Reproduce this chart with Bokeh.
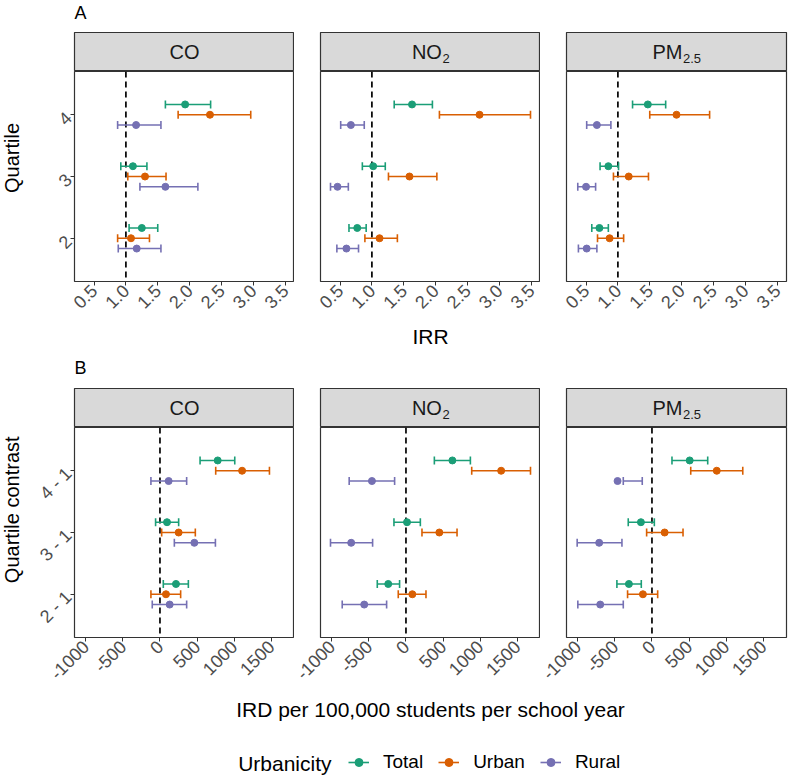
import math
from bokeh.plotting import figure
from bokeh.models import (ColumnDataSource, FactorRange, Range1d, FixedTicker, Span,
                          Legend, LegendItem)
from bokeh.transform import dodge
from bokeh.layouts import column, row
from bokeh.core.properties import value
from bokeh.embed import file_html
from bokeh.resources import INLINE

FONT = "Liberation Sans"

groups = ["Total", "Urban", "Rural"]
group_colors = ["#1B9E77", "#D95F02", "#7570B3"]
pollutants = ["CO", "NO2", "PM2.5"]
strip_main = ["CO", "NO", "PM"]
strip_sub = ["", "2", "2.5"]

quartiles = ["2", "3", "4"]
contrasts = ["2 - 1", "3 - 1", "4 - 1"]

irr_ticks = [0.5, 1.0, 1.5, 2.0, 2.5, 3.0, 3.5]
irr_tick_labels = ["0.5", "1.0", "1.5", "2.0", "2.5", "3.0", "3.5"]
ird_ticks = [-1000, -500, 0, 500, 1000, 1500]
ird_tick_labels = ["-1000", "-500", "0", "500", "1000", "1500"]

# ---- Panel A: IRR by quartile (order Q2, Q3, Q4) ----
irr_co_total = [1.25, 1.11, 1.93]
irr_co_total_lo = [1.05, 0.92, 1.62]
irr_co_total_hi = [1.50, 1.33, 2.33]
irr_co_urban = [1.08, 1.30, 2.32]
irr_co_urban_lo = [0.87, 1.03, 1.82]
irr_co_urban_hi = [1.37, 1.63, 2.96]
irr_co_rural = [1.17, 1.62, 1.16]
irr_co_rural_lo = [0.88, 1.22, 0.87]
irr_co_rural_hi = [1.55, 2.13, 1.55]

irr_no2_total = [0.77, 1.02, 1.63]
irr_no2_total_lo = [0.64, 0.85, 1.35]
irr_no2_total_hi = [0.91, 1.21, 1.95]
irr_no2_urban = [1.12, 1.59, 2.69]
irr_no2_urban_lo = [0.89, 1.26, 2.06]
irr_no2_urban_hi = [1.40, 2.02, 3.49]
irr_no2_rural = [0.60, 0.46, 0.67]
irr_no2_rural_lo = [0.45, 0.35, 0.51]
irr_no2_rural_hi = [0.79, 0.63, 0.88]

irr_pm_total = [0.71, 0.85, 1.47]
irr_pm_total_lo = [0.59, 0.72, 1.23]
irr_pm_total_hi = [0.85, 1.01, 1.75]
irr_pm_urban = [0.87, 1.17, 1.92]
irr_pm_urban_lo = [0.68, 0.93, 1.50]
irr_pm_urban_hi = [1.09, 1.48, 2.44]
irr_pm_rural = [0.51, 0.50, 0.67]
irr_pm_rural_lo = [0.38, 0.37, 0.51]
irr_pm_rural_hi = [0.67, 0.65, 0.89]

# ---- Panel B: IRD per 100,000 students (order 2-1, 3-1, 4-1) ----
ird_co_total = [216, 95, 779]
ird_co_total_lo = [45, -59, 541]
ird_co_total_hi = [383, 252, 1009]
ird_co_urban = [81, 252, 1108]
ird_co_urban_lo = [-122, 23, 752]
ird_co_urban_hi = [279, 477, 1477]
ird_co_rural = [131, 464, 117]
ird_co_rural_lo = [-104, 194, -122]
ird_co_rural_hi = [360, 748, 360]

ird_no2_total = [-239, 14, 626]
ird_no2_total_lo = [-387, -162, 383]
ird_no2_total_hi = [-86, 194, 869]
ird_no2_urban = [86, 450, 1284]
ird_no2_urban_lo = [-104, 216, 887]
ird_no2_urban_hi = [270, 689, 1680]
ird_no2_rural = [-563, -739, -459]
ird_no2_rural_lo = [-860, -1018, -766]
ird_no2_rural_hi = [-261, -450, -153]

ird_pm_total = [-311, -149, 509]
ird_pm_total_lo = [-473, -320, 270]
ird_pm_total_hi = [-144, 32, 752]
ird_pm_urban = [-122, 171, 874]
ird_pm_urban_lo = [-329, -72, 523]
ird_pm_urban_hi = [77, 419, 1225]
ird_pm_rural = [-698, -712, -464]
ird_pm_rural_lo = [-1000, -1009, -387]
ird_pm_rural_hi = [-387, -405, -131]

irr_data = [
    {"Total": (irr_co_total, irr_co_total_lo, irr_co_total_hi),
     "Urban": (irr_co_urban, irr_co_urban_lo, irr_co_urban_hi),
     "Rural": (irr_co_rural, irr_co_rural_lo, irr_co_rural_hi)},
    {"Total": (irr_no2_total, irr_no2_total_lo, irr_no2_total_hi),
     "Urban": (irr_no2_urban, irr_no2_urban_lo, irr_no2_urban_hi),
     "Rural": (irr_no2_rural, irr_no2_rural_lo, irr_no2_rural_hi)},
    {"Total": (irr_pm_total, irr_pm_total_lo, irr_pm_total_hi),
     "Urban": (irr_pm_urban, irr_pm_urban_lo, irr_pm_urban_hi),
     "Rural": (irr_pm_rural, irr_pm_rural_lo, irr_pm_rural_hi)},
]
ird_data = [
    {"Total": (ird_co_total, ird_co_total_lo, ird_co_total_hi),
     "Urban": (ird_co_urban, ird_co_urban_lo, ird_co_urban_hi),
     "Rural": (ird_co_rural, ird_co_rural_lo, ird_co_rural_hi)},
    {"Total": (ird_no2_total, ird_no2_total_lo, ird_no2_total_hi),
     "Urban": (ird_no2_urban, ird_no2_urban_lo, ird_no2_urban_hi),
     "Rural": (ird_no2_rural, ird_no2_rural_lo, ird_no2_rural_hi)},
    {"Total": (ird_pm_total, ird_pm_total_lo, ird_pm_total_hi),
     "Urban": (ird_pm_urban, ird_pm_urban_lo, ird_pm_urban_hi),
     "Rural": (ird_pm_rural, ird_pm_rural_lo, ird_pm_rural_hi)},
]


def data_range(panel_data):
    lows = [v for d in panel_data for g in groups for v in d[g][1]]
    highs = [v for d in panel_data for g in groups for v in d[g][2]]
    lo, hi = min(lows), max(highs)
    pad = 0.05 * (hi - lo)
    return lo - pad, hi + pad


W = 797
FRAME_W = 220
FRAME_H = 210
LEFT = 74
YTITLE_W = 24
GAP = 26
RIGHT = 11
LINE_W = 1.6
CENTER_X = LEFT + (3 * FRAME_W + 2 * GAP) / 2


def borders(col):
    return (LEFT if col == 0 else GAP), (RIGHT if col == 2 else 0)


def text_fig(h, w=W):
    f = figure(width=w, height=h, x_range=Range1d(0, w), y_range=Range1d(0, h),
               min_border=0, toolbar_location=None, output_backend="svg",
               x_axis_location=None, y_axis_location=None)
    f.outline_line_color = None
    f.grid.visible = False
    return f


def add_text(f, x, y_from_top, text, size, align="left", angle=0.0):
    h = f.y_range.end
    f.text(x=[x], y=[h - y_from_top], text=[text], text_font=value(FONT),
           text_font_size=size, text_color="black", text_baseline="middle",
           text_align=align, angle=angle)


def strip(col):
    bl, br = borders(col)
    s = figure(frame_width=FRAME_W, frame_height=39, x_range=Range1d(0, FRAME_W),
               y_range=Range1d(0, 39), min_border_left=bl, min_border_right=br,
               min_border_top=0, min_border_bottom=0, toolbar_location=None,
               output_backend="svg", x_axis_location=None, y_axis_location=None)
    s.background_fill_color = "#D9D9D9"
    s.border_fill_color = "white"
    s.outline_line_color = "#333333"
    s.outline_line_width = 1.2
    s.grid.visible = False
    main, sub = strip_main[col], strip_sub[col]
    main_w = 1.5 * 20
    sub_w = (0.556 * 13 if sub == "2" else 1.39 * 13) if sub else 0
    start = FRAME_W / 2 - (main_w + sub_w) / 2
    s.text(x=[start], y=[19.5], text=[main], text_font=value(FONT), text_font_size="20px",
           text_color="#1A1A1A", text_baseline="middle", text_align="left")
    if sub:
        s.text(x=[start + main_w + 0.5], y=[13.5], text=[sub], text_font=value(FONT),
               text_font_size="13px", text_color="#1A1A1A", text_baseline="middle",
               text_align="left")
    return s


def panel(col, cats, series, xr, ticks, tick_labels, ref, bottom):
    bl, br = borders(col)
    if col == 0:
        bl = LEFT - YTITLE_W
    p = figure(frame_width=FRAME_W, frame_height=FRAME_H, x_range=Range1d(*xr),
               y_range=FactorRange(factors=cats, range_padding=0.2,
                                   range_padding_units="absolute"),
               min_border_left=bl, min_border_right=br, min_border_top=0,
               min_border_bottom=bottom, toolbar_location=None, output_backend="svg",
               y_axis_location="left" if col == 0 else None)
    p.background_fill_color = "white"
    p.border_fill_color = "white"
    p.outline_line_color = "#333333"
    p.outline_line_width = 1.2
    p.grid.visible = False
    p.add_layout(Span(location=ref, dimension="height", line_color="black",
                      line_dash="6 4", line_width=1.7, level="underlay"))
    for g, c, off in zip(groups, group_colors, [1 / 6, 0, -1 / 6]):
        est, lo, hi = series[g]
        src = ColumnDataSource(dict(cat=cats, est=est, lo=lo, hi=hi))
        y = dodge("cat", off, range=p.y_range)
        p.segment(x0="lo", x1="hi", y0=y, y1=y, source=src, line_color=c, line_width=LINE_W)
        for end in ("lo", "hi"):
            p.scatter(x=end, y=y, source=src, marker="dash", angle=math.pi / 2, size=8,
                      line_color=c, line_width=LINE_W)
        p.scatter(x="est", y=y, source=src, marker="circle", size=7, fill_color=c,
                  line_color=c)

    p.xaxis.ticker = FixedTicker(ticks=ticks)
    p.xaxis.major_label_overrides = {t: l for t, l in zip(ticks, tick_labels)}
    p.xaxis.major_label_orientation = math.pi / 4
    p.yaxis.major_label_orientation = math.pi / 4
    p.axis.axis_line_color = None
    p.axis.major_tick_line_color = "#333333"
    p.axis.major_tick_out = 4
    p.axis.major_tick_in = 0
    p.axis.minor_tick_line_color = None
    p.axis.major_label_text_font = FONT
    p.axis.major_label_text_font_size = "18px"
    p.axis.major_label_text_color = "#4D4D4D"
    p.axis.major_label_standoff = 2
    return p


def ytitle(text, h):
    f = text_fig(h, YTITLE_W)
    add_text(f, 11, FRAME_H / 2, text, "20px", "center", math.pi / 2)
    return f


irr_range = data_range(irr_data)
ird_range = data_range(ird_data)

A_BOTTOM = 45
B_BOTTOM = 58

headA = text_fig(32)
add_text(headA, LEFT, 12, "A", "18px")
stripsA = row(*[strip(i) for i in range(3)])
panelsA = row(ytitle("Quartile", FRAME_H + A_BOTTOM),
              *[panel(i, quartiles, irr_data[i], irr_range, irr_ticks, irr_tick_labels,
                      1.0, A_BOTTOM) for i in range(3)])
titleA = text_fig(26)
add_text(titleA, CENTER_X, 10, "IRR", "21px", "center")
headB = text_fig(36)
add_text(headB, LEFT, 15, "B", "18px")
stripsB = row(*[strip(i) for i in range(3)])
panelsB = row(ytitle("Quartile contrast", FRAME_H + B_BOTTOM),
              *[panel(i, contrasts, ird_data[i], ird_range, ird_ticks, ird_tick_labels,
                      0, B_BOTTOM) for i in range(3)])
titleB = text_fig(50)
add_text(titleB, CENTER_X, 14, "IRD per 100,000 students per school year", "21px", "center")

# legend
lf = text_fig(31)
items = []
for g, c in zip(groups, group_colors):
    # legend-key renderers placed outside the visible range
    r1 = lf.line(x=[-30, -20], y=[-30, -30], line_color=c, line_width=LINE_W)
    r2 = lf.scatter(x=[-25], y=[-30], marker="circle", size=7, fill_color=c, line_color=c)
    items.append(LegendItem(label=g, renderers=[r1, r2]))
title_w = 4.445 * 21
items_w = sum(21 + 14 + w * 19 for w in (2.223, 2.723, 2.389)) + 2 * 15
start_x = CENTER_X - (title_w + 17 + items_w) / 2
leg = Legend(items=items, orientation="horizontal",
             location=(start_x + title_w + 17, 3), glyph_width=21,
             glyph_height=20, label_height=20, label_standoff=14, spacing=15, padding=0,
             margin=0, border_line_color=None, background_fill_alpha=0,
             label_text_font=FONT, label_text_font_size="19px", label_text_color="black")
lf.add_layout(leg)
add_text(lf, start_x, 18, "Urbanicity", "21px")

layout = column(headA, stripsA, panelsA, titleA, headB, stripsB, panelsB, titleB, lf)

open("out.html", "w").write(file_html(layout, INLINE))
